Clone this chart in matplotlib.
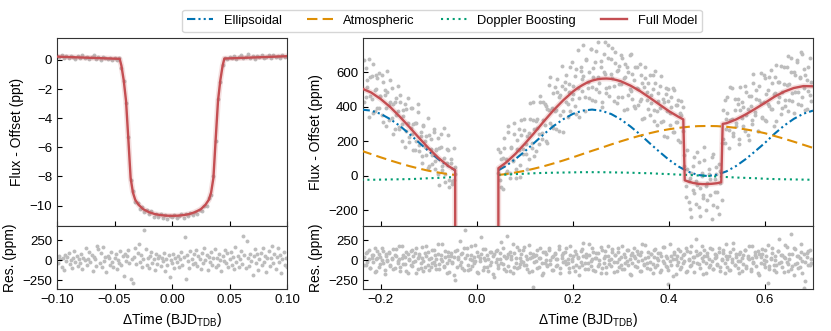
import matplotlib.pyplot as plt
import numpy as np

plt.rcParams['font.family'] = ['Liberation Sans', 'DejaVu Sans']
plt.rcParams['mathtext.fontset'] = 'custom'
plt.rcParams['mathtext.rm'] = 'Liberation Sans'

nan = float('nan')

# ---------------- data ----------------
# transit zoom (left): time in millidays, flux in ppt, residuals in ppm
left_flux_t = [-100, -98, -96, -94, -92, -90, -88, -86, -84, -82,
               -80, -78, -76, -74, -72, -70, -68, -66, -64, -62,
               -60, -58, -56, -54, -52, -50, -48, -46, -44, -42,
               -40, -38, -36, -34, -32, -30, -28, -26, -24, -22,
               -20, -18, -16, -14, -12, -10, -8, -6, -4, -2,
               0, 2, 4, 6, 8, 10, 12, 14, 16, 18,
               20, 22, 24, 26, 28, 30, 32, 34, 36, 38,
               40, 42, 44, 46, 48, 50, 52, 54, 56, 58,
               60, 62, 64, 66, 68, 70, 72, 74, 76, 78,
               80, 82, 84, 86, 88, 90, 92, 94, 96, 98,
               100]
left_flux = [0.26, 0.18, 0.30, 0.15, 0.24, 0.12, 0.27, 0.20, 0.09, 0.25,
             0.14, 0.33, 0.10, 0.19, 0.05, 0.22, 0.31, 0.08, 0.17, 0.02,
             0.20, 0.13, 0.04, 0.16, 0.01, 0.12, -0.03, 0.10, -0.55, -1.45,
             -2.95, -5.30, -8.25, -9.00, -9.75, -9.85, -10.20, -10.10, -10.45, -10.30,
             -10.60, -10.40, -10.75, -10.55, -10.80, -10.60, -10.85, -10.65, -10.90, -10.70,
             -10.80, -10.62, -10.88, -10.70, -10.58, -10.82, -10.60, -10.72, -10.50, -10.66,
             -10.42, -10.55, -10.30, -10.35, -10.05, -10.05, -9.50, -9.25, -8.00, -5.55,
             -2.70, -1.55, -0.35, 0.14, 0.03, 0.20, 0.11, 0.26, 0.08, 0.18,
             0.30, 0.12, 0.21, 0.37, 0.15, 0.24, 0.09, 0.28, 0.17, 0.33,
             0.12, 0.22, 0.30, 0.16, 0.35, 0.19, 0.27, 0.14, 0.31, 0.23,
             0.29]

left_model_t = [-0.100, -0.0455, -0.044, -0.042, -0.040, -0.038, -0.036, -0.034,
                -0.032, -0.029, -0.025, -0.020, -0.015, -0.010, -0.005, 0.0,
                0.005, 0.010, 0.015, 0.020, 0.025, 0.029, 0.032, 0.034,
                0.036, 0.038, 0.040, 0.042, 0.044, 0.0455, 0.100]
left_model = [0.22, 0.07, -0.40, -1.40, -2.80, -5.40, -8.10, -9.10,
              -9.60, -9.95, -10.25, -10.45, -10.58, -10.65, -10.69, -10.70,
              -10.69, -10.65, -10.58, -10.45, -10.25, -9.95, -9.60, -9.10,
              -8.10, -5.40, -2.80, -1.40, -0.40, 0.09, 0.25]

left_res_t = list(range(-100, 101))  # one point per milliday
left_res = [45, -30, 60, 10, -85, 25, -120, 70, -15, 40,
            95, -50, 5, -100, 30, 120, -20, 55, -70, 15,
            -40, 80, -110, 35, 0, 150, -60, 20, 100, -25,
            65, -130, 45, 10, -75, 185, 140, -35, 90, -90,
            170, -10, 40, -150, 60, 25, -55, 110, -20, -80,
            30, 75, -105, 5, -40, 120, -65, 50, -195, 85,
            -15, 60, 130, -35, -240, 10, -290, 45, 160, -50,
            95, 200, -25, 70, -85, 20, 380, 140, -60, 35,
            -95, 55, 110, -30, 15, -120, 80, -45, 25, 60,
            -70, 35, -10, 90, -135, 20, -55, 65, -215, 5,
            -40, 75, -100, 30, -20, 50, -85, 15, 100, -60,
            40, 287, -230, 65, -15, -95, 120, 10, -50, 85,
            -30, 135, -75, 55, 20, -110, 95, -40, 160, 0,
            70, -125, 45, -20, 110, -65, 25, 145, -90, 35,
            -55, 80, 5, -140, 60, -10, 125, -35, 90, -80,
            15, 100, -60, 40, -115, 170, -25, 55, -90, 20,
            120, -45, 304, 65, -100, 241, 30, -70, 85, -10,
            -190, 50, 140, -35, 75, -120, 10, 95, -55, 160,
            -20, 60, -145, 35, 115, -70, 25, 180, -40, 85,
            -110, 45, 150, -25, 70, -160, 15, 100, -65, 30,
            -85]

# full phase (right): time in millidays, flux and residuals in ppm
# (two folded orbits per time stamp)
right_t = [-234, -231, -228, -225, -222, -219, -216, -213, -210, -207,
           -204, -201, -198, -195, -192, -189, -186, -183, -180, -177,
           -174, -171, -168, -165, -162, -159, -156, -153, -150, -147,
           -144, -141, -138, -135, -132, -129, -126, -123, -120, -117,
           -114, -111, -108, -105, -102, -99, -96, -93, -90, -87,
           -84, -81, -78, -75, -72, -69, -66, -63, -60, -57,
           -54, -51, -48, -45, -42, -39, -36, -33, -30, -27,
           -24, -21, -18, -15, -12, -9, -6, -3, 0, 3,
           6, 9, 12, 15, 18, 21, 24, 27, 30, 33,
           36, 39, 42, 45, 48, 51, 54, 57, 60, 63,
           66, 69, 72, 75, 78, 81, 84, 87, 90, 93,
           96, 99, 102, 105, 108, 111, 114, 117, 120, 123,
           126, 129, 132, 135, 138, 141, 144, 147, 150, 153,
           156, 159, 162, 165, 168, 171, 174, 177, 180, 183,
           186, 189, 192, 195, 198, 201, 204, 207, 210, 213,
           216, 219, 222, 225, 228, 231, 234, 237, 240, 243,
           246, 249, 252, 255, 258, 261, 264, 267, 270, 273,
           276, 279, 282, 285, 288, 291, 294, 297, 300, 303,
           306, 309, 312, 315, 318, 321, 324, 327, 330, 333,
           336, 339, 342, 345, 348, 351, 354, 357, 360, 363,
           366, 369, 372, 375, 378, 381, 384, 387, 390, 393,
           396, 399, 402, 405, 408, 411, 414, 417, 420, 423,
           426, 429, 432, 435, 438, 441, 444, 447, 450, 453,
           456, 459, 462, 465, 468, 471, 474, 477, 480, 483,
           486, 489, 492, 495, 498, 501, 504, 507, 510, 513,
           516, 519, 522, 525, 528, 531, 534, 537, 540, 543,
           546, 549, 552, 555, 558, 561, 564, 567, 570, 573,
           576, 579, 582, 585, 588, 591, 594, 597, 600, 603,
           606, 609, 612, 615, 618, 621, 624, 627, 630, 633,
           636, 639, 642, 645, 648, 651, 654, 657, 660, 663,
           666, 669, 672, 675, 678, 681, 684, 687, 690, 693,
           696]
right_flux = [671, 457, 554, 680, 466, 577, 366, 501, 585, 394,
              599, 463, 351, 544, 467, 290, 488, 411, 559, 336,
              417, 274, 455, 377, 274, 470, 301, 382, 168, 389,
              305, 226, 392, 242, 303, 148, 309, 370, 180, 231,
              117, 293, 169, 230, 46, 237, 154, 70, 257, 89,
              156, 13, 165, 243, 36, 105, -37, 156, 239, -26,
              78, -47, -22, 53, nan, nan, nan, nan, nan, nan,
              nan, nan, nan, nan, nan, nan, nan, nan, nan, nan,
              nan, nan, nan, nan, nan, nan, nan, nan, nan, nan,
              nan, nan, nan, 15, 141, -63, 104, 220, 16, 94,
              291, 19, 162, 94, 242, -10, 209, 153, 62, 326,
              130, 269, 183, 43, 248, 332, 162, 431, 271, 146,
              331, 246, 431, 216, 326, 416, 201, 390, 525, 305,
              394, 279, 518, 381, 485, 263, 467, 640, 374, 547,
              429, 342, 534, 632, 444, 521, 407, 622, 508, 344,
              609, 565, 760, 458, 672, 511, 605, 734, 443, 575,
              661, 503, 775, 541, 633, 429, 709, 594, 484, 759,
              518, 678, 567, 435, 718, 606, 459, 636, 534, 685,
              381, 572, 634, 470, 701, 493, 593, 403, 633, 513,
              413, 649, 449, 537, 337, 566, 485, 390, 584, 423,
              507, 316, 611, 375, 434, 523, 312, 446, 231, 475,
              374, 503, 298, 398, 513, 253, 413, 313, 438, 199,
              355, 400, 120, -60, 40, -150, -10, -240, 60, -100,
              -30, 140, -180, -70, 20, -130, 90, -200, -40, 10,
              -110, 110, -170, -20, 50, -90, -220, 30, -140, 382,
              193, 330, 458, 266, 325, 508, 231, 384, 308, 447,
              187, 381, 430, 290, 524, 354, 239, 464, 404, 299,
              589, 354, 448, 258, 523, 424, 344, 584, 324, 474,
              420, 575, 391, 541, 291, 481, 646, 430, 545, 359,
              489, 633, 406, 529, 698, 441, 604, 482, 365, 587,
              673, 485, 567, 413, 705, 511, 586, 391, 631, 470,
              545]
right_flux2 = [431, 627, 514, 340, 571, 447, 651, 376, 505, 569,
               394, 463, 586, 314, 497, 395, 608, 326, 429, 511,
               242, 429, 355, 522, 284, 430, 201, 347, 418, 259,
               450, 196, 277, 397, 148, 308, 204, 415, 145, 256,
               77, 288, 204, 120, 336, 57, 214, 120, 272, 39,
               151, 218, -50, 168, 56, 280, 13, 76, 149, -61,
               98, -27, 163, 13, nan, nan, nan, nan, nan, nan,
               nan, nan, nan, nan, nan, nan, nan, nan, nan, nan,
               nan, nan, nan, nan, nan, nan, nan, nan, nan, nan,
               nan, nan, nan, 155, -24, 97, -76, 165, 96, 29,
               256, -11, 167, 84, 307, 40, 154, 273, -3, 236,
               155, 329, 128, 233, 98, 422, 192, 326, 116, 316,
               281, 186, 461, 251, 431, 296, 406, 190, 385, 575,
               289, 479, 378, 271, 560, 458, 352, 520, 254, 507,
               584, 417, 489, 377, 659, 476, 577, 362, 733, 454,
               629, 495, 580, 378, 677, 546, 455, 739, 518, 625,
               436, 723, 575, 486, 668, 399, 604, 774, 509, 684,
               463, 593, 742, 520, 653, 426, 614, 536, 699, 460,
               566, 652, 389, 600, 506, 708, 448, 558, 393, 633,
               503, 434, 584, 332, 517, 631, 440, 540, 354, 468,
               587, 381, 541, 295, 479, 393, 582, 316, 431, 510,
               224, 433, 368, 458, 253, 498, 313, 413, 208, 364,
               435, 260, 60, -120, 150, -30, -190, 20, -80, 110,
               -160, -50, 80, -230, 0, -110, 170, -60, -140, 40,
               -20, -250, 130, -90, 10, -180, 70, -40, 190, 212,
               443, 275, 368, 161, 515, 333, 251, 444, 288, 417,
               212, 516, 335, 400, 259, 489, 389, 209, 464, 324,
               539, 369, 498, 263, 443, 599, 334, 429, 569, 319,
               500, 405, 616, 386, 476, 576, 321, 545, 460, 639,
               394, 533, 441, 629, 378, 531, 684, 432, 605, 487,
               663, 415, 572, 718, 460, 621, 381, 556, 491, 685,
               435]
right_res = [40, -60, 110, 15, -95, 70, -20, 150, -130, 30,
             85, -45, 5, 120, -170, 55, -10, 95, -75, 20,
             -115, 65, 140, -35, 10, -90, 180, -50, 45, -140,
             75, 0, -65, 125, -25, 90, -155, 35, 60, -100,
             165, -15, -80, 50, 105, -120, 25, -40, 135, -60,
             15, 200, -110, 70, -5, -85, 115, -30, 55, -145,
             95, -20, 40, -246, 130, 10, -55, 80, -95, 150,
             380, 65, -125, 20, 185, -70, 45, -10, 110, -160,
             30, 287, 145, -90, 5, 70, -130, 100, -25, 60,
             -205, 120, 15, -60, 90, -40, 160, -110, 35, 304,
             75, -140, 55, 210, -80, 25, -100, 130, -45, 85,
             -20, 170, -65, 10, -150, 95, 40, -330, 60, -5,
             125, -85, 30, -190, 105, -35, 80, -55, 155, 0,
             -120, 50, 90, -70, 20, 140, -160, 65, -25, 100,
             -45, 15, -95, 175, -10, 60, -135, 85, 35, -80,
             115, -60, 220, -30, 45, -105, 70, -15, 150, -125,
             25, 95, -75, 5, -165, 130, -40, 55, -90, 180,
             -50, 10, 105, -145, 70, -20, 160, -85, 40, -115,
             85, -30, 135, -60, 15, -180, 95, 50, -70, 120,
             -10, 65, -130, 200, -45, 30, -95, 110, -25, 75,
             -155, 40, 145, -65, 0, 90, -120, 170, -35, 55,
             -85, -300, -15, 60, -200, 100, 20, -55, 140, -105,
             35, -40, 80, -150, 115, 5, -75, 185, -20, 45,
             266, 70, -50, 95, 25, -170, 130, -30, 60, -90,
             155, -10, -110, 75, 40, -60, 110, -140, 15, 90,
             -35, 205, -80, 50, -125, 20, 145, -65, 85, -5,
             -160, 100, 30, -45, 125, -95, 55, 10, -135, 175,
             -25, 65, -70, 115, -190, 40, 80, -50, 135, -15,
             -285, -110, 25, 160, -60, 5, -145, 120, -35, 70,
             -85, 45, 190, -20, -130, 85, 325, -75, 150, -45,
             60, -100, 30, 110, -160, -342, -25, 90, -65, 130,
             -40]
right_res2 = [-55, 90, -20, 135, -100, 30, 65, -145, 10, 115,
              -80, 45, 160, -35, -120, 75, 0, 105, -65, 25,
              140, -95, 50, -15, 185, -130, 35, 70, -50, 100,
              -160, 20, 115, -75, 55, -10, 150, -110, 85, -40,
              30, -140, 95, 175, -60, 15, -90, 125, -25, 65,
              -115, 80, -45, 10, 210, -70, 40, -155, 100, 5,
              60, -30, -180, 120, -85, 45, 240, -20, 90, -125,
              25, 160, -65, -105, 70, 0, -40, 195, -150, 50,
              -10, 85, -120, 35, 145, -80, 20, -55, 110, -175,
              75, -25, 130, -95, 15, 230, -45, 60, -135, 40,
              -70, 105, 10, -155, 90, -30, 170, -85, 35, -5,
              125, -60, 50, -110, 195, 25, -140, 80, -20, 65,
              -95, 35, 150, -40, -165, 110, 5, -75, 130, -50,
              45, -125, 85, 20, -60, 175, -100, 30, 95, -15,
              160, -35, -145, 70, 10, -90, 120, -55, 40, -185,
              -20, 140, 55, -115, 85, -40, 205, -70, 15, 100,
              -130, 25, 90, -50, 165, -95, 35, 120, -160, 60,
              5, -75, 145, -25, 70, -135, 100, 20, -55, 180,
              -105, 40, -15, 125, -170, 65, -40, 155, 30, -90,
              80, -140, 110, 0, -65, 190, -30, 45, -115, 75,
              -45, 135, -85, 25, 95, -150, 60, -10, 170, -70,
              35, -120, 200, -55, 15, 85, -175, 50, -25, 115,
              -90, 65, -5, 150, -130, 20, 105, -60, 40, -145,
              120, -35, 75, -100, 185, -15, 50, -165, 90, 10,
              -60, 145, -110, 30, 70, -45, 160, -85, 5, 125,
              -155, 55, 20, -125, 100, -20, 215, -65, 40, -95,
              85, -10, -140, 65, 130, -75, 25, 175, -115, 35,
              -40, 110, 45, -160, 80, -30, 140, 0, -90, 60,
              190, -70, 15, 95, -125, 50, -55, 120, 270, -20,
              70, -150, 35, 165, -45, 10, -105, 85, -180, 140,
              -30, 55, -85, 200, -15, 75, -260, 40, 115, -65,
              20]

# model components (ppm), gap during transit
comp_t = [-0.24, -0.22, -0.20, -0.18, -0.16, -0.14, -0.12, -0.10, -0.08, -0.06, -0.045, nan,
          0.045, 0.06, 0.08, 0.10, 0.12, 0.14, 0.16, 0.18, 0.20, 0.22, 0.24, 0.26, 0.28,
          0.30, 0.32, 0.34, 0.36, 0.38, 0.40, 0.42, 0.44, 0.46, 0.48, 0.50, 0.52, 0.54,
          0.56, 0.58, 0.60, 0.62, 0.64, 0.66, 0.68, 0.70]
ellipsoidal = [385, 379, 360, 329, 290, 243, 193, 143, 97, 57, 33, nan,
               33, 57, 97, 143, 193, 243, 290, 329, 360, 379, 385, 378, 359,
               328, 287, 241, 190, 141, 94, 55, 25, 6, 0, 7, 27, 58,
               98, 144, 192, 245, 292, 331, 361, 379]
atmospheric = [146, 127, 108, 90, 73, 57, 43, 30, 20, 11, 6, nan,
               6, 11, 20, 30, 43, 57, 73, 90, 108, 127, 146, 164, 183,
               201, 218, 234, 248, 261, 271, 279, 285, 289, 290, 289, 285, 279,
               270, 260, 248, 232, 216, 199, 181, 163]
doppler = [-22, -22, -21, -20, -19, -18, -16, -13, -11, -8, -6, nan,
           6, 8, 11, 13, 16, 18, 19, 20, 21, 22, 22, 22, 21,
           20, 19, 17, 16, 13, 11, 8, 6, 3, 0, -3, -6, -9,
           -11, -13, -16, -18, -19, -20, -21, -22]

full_t = [-0.24, -0.22, -0.20, -0.18, -0.16, -0.14, -0.12, -0.10, -0.08, -0.06, -0.045,
          -0.0445, 0.0, 0.0445,
          0.045, 0.06, 0.08, 0.10, 0.12, 0.14, 0.16, 0.18, 0.20, 0.21, 0.22, 0.23, 0.24,
          0.25, 0.26, 0.27, 0.28, 0.29,
          0.30, 0.32, 0.34, 0.36, 0.38, 0.40, 0.42, 0.430,
          0.433, 0.44, 0.45, 0.46, 0.47, 0.48, 0.49, 0.50, 0.509,
          0.512, 0.52, 0.54, 0.56, 0.58, 0.60, 0.62, 0.64, 0.66, 0.68, 0.70]
full_model = [508, 484, 446, 399, 343, 283, 220, 160, 105, 59, 33,
              -3000, -10700, -3000,
              45, 76, 127, 187, 251, 318, 382, 439, 489, 510, 527, 542, 553,
              560, 564, 565, 563, 557,
              549, 524, 492, 454, 415, 376, 343, 328,
              -25, -32, -40, -45, -47, -47, -45, -42, -36,
              302, 306, 328, 357, 390, 424, 460, 489, 510, 521, 520]

# ---------------- figure ----------------
grey = '#bdbdbd'
red = '#c44e52'
ms = 8

fig = plt.figure(figsize=(8.31, 3.31), dpi=100)
ax_lt = fig.add_axes([0.0686, 0.3172, 0.2768, 0.568])
ax_lb = fig.add_axes([0.0686, 0.1269, 0.2768, 0.1903], sharex=ax_lt)
ax_rt = fig.add_axes([0.4368, 0.3172, 0.5415, 0.568])
ax_rb = fig.add_axes([0.4368, 0.1269, 0.5415, 0.1903], sharex=ax_rt)

lt = np.array(left_flux_t) / 1000
ax_lt.scatter(lt, left_flux, s=ms, color=grey, linewidths=0, zorder=1)
ax_lt.plot(left_model_t, left_model, color=red, lw=4, alpha=0.18, zorder=2)
ax_lt.plot(left_model_t, left_model, color=red, lw=1.7, zorder=3)
ax_lb.scatter(np.array(left_res_t) / 1000, left_res, s=ms, color=grey, linewidths=0)

rt = np.array(right_t) / 1000
ax_rt.scatter(rt, right_flux, s=ms, color=grey, linewidths=0, zorder=1)
ax_rt.scatter(rt, right_flux2, s=ms, color=grey, linewidths=0, zorder=1)
ax_rt.plot(comp_t, ellipsoidal, color='#0173b2', lw=1.5,
           ls=(0, (4, 1.5, 1, 1.5, 1, 1.5)), label='Ellipsoidal', zorder=3)
ax_rt.plot(comp_t, atmospheric, color='#de8f05', lw=1.5,
           ls=(0, (5, 2.5)), label='Atmospheric', zorder=3)
ax_rt.plot(comp_t, doppler, color='#029e73', lw=1.5,
           ls=(0, (1, 1.8)), label='Doppler Boosting', zorder=3)
ax_rt.plot(full_t, full_model, color=red, lw=4, alpha=0.18, zorder=4)
ax_rt.plot(full_t, full_model, color=red, lw=1.7, label='Full Model', zorder=5)
ax_rb.scatter(rt, right_res, s=ms, color=grey, linewidths=0)
ax_rb.scatter(rt, right_res2, s=ms, color=grey, linewidths=0)

ax_lt.set_xlim(-0.1, 0.1)
ax_lt.set_ylim(-11.4, 1.5)
ax_lt.set_yticks([0, -2, -4, -6, -8, -10])
ax_lt.set_ylabel('Flux - Offset (ppt)', fontsize=10)
ax_lb.set_ylim(-360, 430)
ax_lb.set_yticks([250, 0, -250])
ax_lb.set_xticks([-0.10, -0.05, 0.00, 0.05, 0.10])
ax_lb.set_ylabel('Res. (ppm)', fontsize=10)
ax_lb.set_xlabel('ΔTime (BJD$_{\\mathrm{TDB}}$)', fontsize=10)

ax_rt.set_xlim(-0.237, 0.70)
ax_rt.set_ylim(-290, 800)
ax_rt.set_yticks([-200, 0, 200, 400, 600])
ax_rt.set_ylabel('Flux - Offset (ppm)', fontsize=10)
ax_rb.set_ylim(-360, 430)
ax_rb.set_yticks([250, 0, -250])
ax_rb.set_xticks([-0.2, 0.0, 0.2, 0.4, 0.6])
ax_rb.set_ylabel('Res. (ppm)', fontsize=10)
ax_rb.set_xlabel('ΔTime (BJD$_{\\mathrm{TDB}}$)', fontsize=10)

for ax in (ax_lt, ax_lb, ax_rt, ax_rb):
    ax.tick_params(direction='in', top=False, right=False, labelsize=9.5, length=3.5)
    for sp in ax.spines.values():
        sp.set_color('#333333')
for ax in (ax_lt, ax_rt):
    ax.tick_params(labelbottom=False)

handles, labels = ax_rt.get_legend_handles_labels()
fig.legend(handles, labels, loc='upper center', bbox_to_anchor=(0.532, 0.99),
           ncol=4, fontsize=9.3, frameon=True)

fig.savefig('out.png', dpi=100)
